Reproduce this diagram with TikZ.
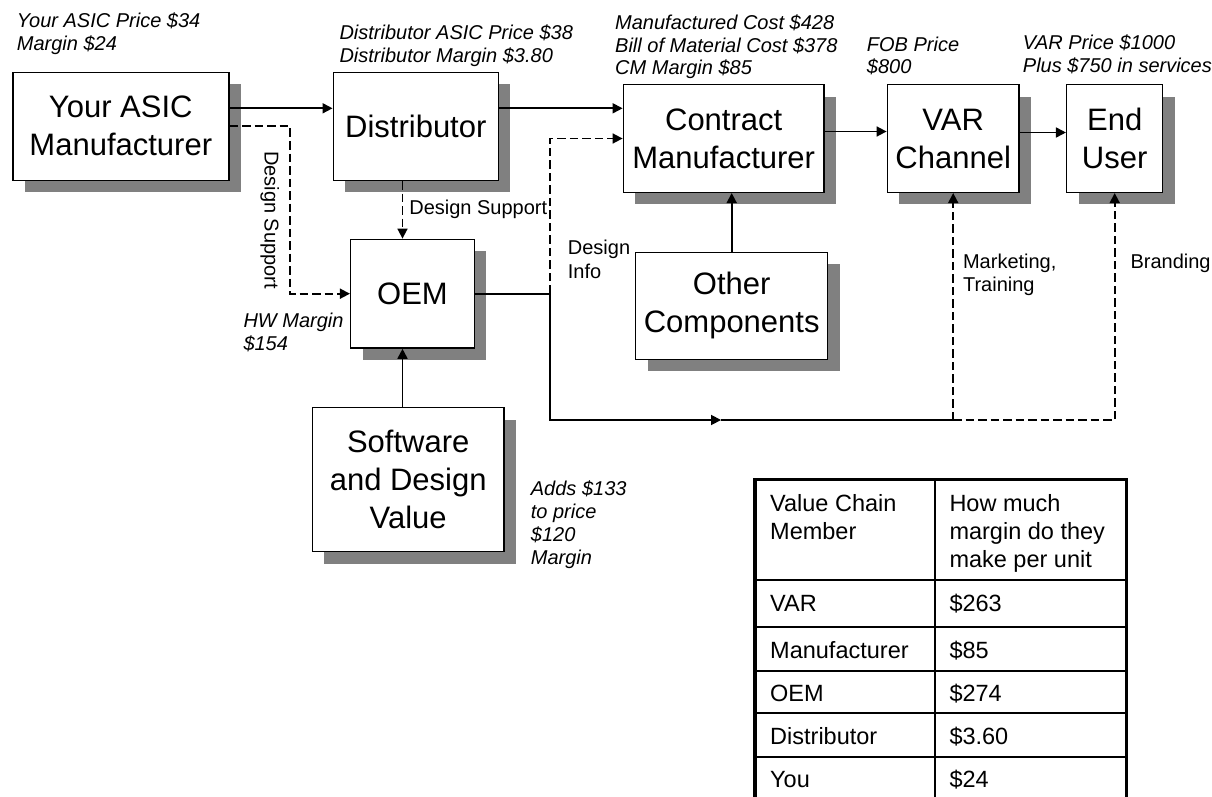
\documentclass[tikz,border=0pt]{standalone}
\usepackage{fontspec}
\setmainfont{Liberation Sans}
\usetikzlibrary{arrows.meta,shadows}

\begin{document}
\begin{tikzpicture}[
        x=1pt, y=-1pt,
        flow/.style={-{Triangle[length=10pt, width=10pt]}, line width=1.7pt},
        dflow/.style={flow, dash pattern=on 8.5pt off 4pt},
        link/.style={line width=1.7pt},
        member/.style={draw, line width=1.5pt, fill=white, align=center,
            inner sep=0pt, font=\fontsize{31}{38}\selectfont,
            general shadow={fill=gray, shadow xshift=12pt, shadow yshift=-12pt}},
        note/.style={font=\fontsize{20}{22.7}\selectfont\itshape, align=left,
            anchor=base west, inner sep=0pt},
        tag/.style={font=\fontsize{20}{23.5}\selectfont, align=left},
        cell/.style={font=\fontsize{23.5}{28}\selectfont, align=left,
            anchor=base west, inner sep=0pt},
        cellrule/.style={line width=1.7pt},
        tableframe/.style={line width=3.3pt}
    ]
        \useasboundingbox (0,0) rectangle (1212,797);

        % Value chain members.
        \node[member, minimum width=216pt, minimum height=108pt] (asic) at (120.8,126.3)
            {Your ASIC\\Manufacturer};
        \node[member, minimum width=165pt, minimum height=108pt] (dist) at (415.8,126.3)
            {Distributor};
        \node[member, minimum width=200.7pt, minimum height=107.6pt] (cm) at (723.7,138.5)
            {Contract\\Manufacturer};
        \node[member, minimum width=131.7pt, minimum height=107.6pt] (var) at (953.2,138.5)
            {VAR\\Channel};
        \node[member, minimum width=96pt, minimum height=107.6pt] (user) at (1114.7,138.5)
            {End\\User};
        \node[member, minimum width=123.6pt, minimum height=108.7pt] (oem) at (412.5,293.7)
            {OEM};
        \node[member, minimum width=192pt, minimum height=107pt] (other) at (731.7,305.8)
            {Other\\Components};
        \node[member, minimum width=191.7pt, minimum height=144pt] (soft) at (408.2,479.7)
            {Software\\and Design\\Value};

        % Prices and margins (anchored on the last line).
        \node[note] (asicnote) at (16.7,50.5) {Your ASIC Price \$34\\Margin \$24};
        \node[note] (distnote) at (339.3,62.5) {Distributor ASIC Price \$38\\Distributor Margin \$3.80};
        \node[note] (cmnote) at (615,75)
            {Manufactured Cost \$428\\Bill of Material Cost \$378\\CM Margin \$85};
        \node[note] (fobnote) at (866.7,74) {FOB Price\\\$800};
        \node[note] (varnote) at (1022.7,72.7) {VAR Price \$1000\\Plus \$750 in services};
        \node[note] (hwnote) at (243.3,350) {HW Margin\\\$154};
        \node[note] (swnote) at (530.7,564) {Adds \$133\\to price\\\$120\\Margin};

        % Product flow.
        \draw[flow] ([yshift=18pt]asic.east) -- ([yshift=18pt]dist.west);
        \draw[flow] ([yshift=18pt]dist.east) -- ([yshift=18pt]dist.east -| cm.west);
        \draw[flow] ([yshift=7pt]cm.east) -- ([yshift=7pt]var.west);
        \draw[flow] ([yshift=6pt]var.east) -- ([yshift=6pt]user.west);
        \draw[flow] (other.north) -- (other.north |- cm.south);
        \draw[flow] ([xshift=-10pt]oem.south |- soft.north) -- ([xshift=-10pt]oem.south);

        % Support and information.
        \draw[dflow] (asic.east) -- ++(60.3,0) |- (oem.west)
            node[tag, pos=0.28, rotate=-90, anchor=north, inner sep=10pt] {Design Support};
        \draw[dflow] ([xshift=-10pt]oem.north |- dist.south) -- ([xshift=-10pt]oem.north)
            node[tag, midway, anchor=west, inner sep=6pt] {Design Support};

        \coordinate (split) at ([xshift=75pt]oem.east);
        \coordinate (low) at ([yshift=-126.3pt]split);
        \coordinate (tip) at ([xshift=171pt]low);
        \draw[dflow] (split) |- (cm.west)
            node[tag, pos=0.11, anchor=west, inner sep=0pt, xshift=17pt] {Design\\Info};
        \draw[flow] (oem.east) -- (split) -- (low) -- (tip);
        \draw[link] (tip) -- (low -| var.south);
        \draw[dflow] (low -| var.south) -- (var.south)
            node[tag, pos=0.64, anchor=west, inner sep=0pt, xshift=9pt] {Marketing,\\Training};
        \draw[dflow] (low -| var.south) -| (user.south)
            node[tag, pos=0.845, anchor=west, inner sep=0pt, xshift=15pt] {Branding};

        % Margin table.
        \draw[tableframe] (755,797) -- (755,479.3) -- (1126.7,479.3) -- (1126.7,797);
        \draw[cellrule] (935,479.3) -- (935,797);
        \node[cell] (hdmember) at (770,539.5) {Value Chain\\Member};
        \node[cell] (hdmargin) at (949.3,567.5) {How much\\margin do they\\make per unit};
        \foreach \name/\who/\amt/\ytop in {var/VAR/\$263/580, mfr/Manufacturer/\$85/627.3,
                oem/OEM/\$274/670.7, dst/Distributor/\$3.60/713.3, you/You/\$24/756.7} {
            \draw[cellrule] (755,\ytop) -- (1126.7,\ytop);
            \node[cell] (who-\name) at (770,\ytop+31) {\who};
            \node[cell] (amt-\name) at (949.3,\ytop+31) {\amt};
        }
    \end{tikzpicture}
\end{document}
